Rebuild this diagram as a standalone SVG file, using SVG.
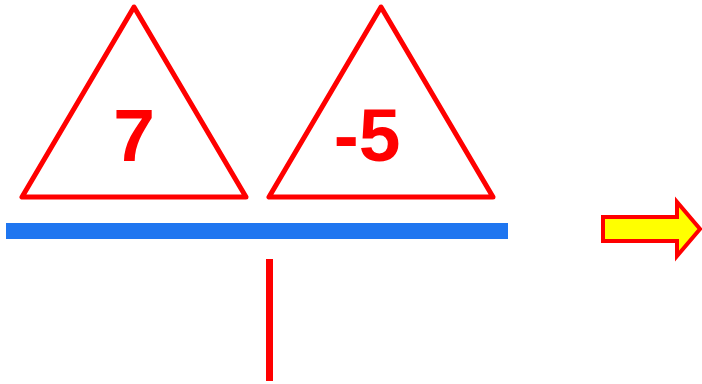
<svg xmlns="http://www.w3.org/2000/svg" width="702" height="384" viewBox="0 0 702 384">
<style>
.tri{fill:#fff;stroke:#ff0000;stroke-width:5;stroke-linejoin:round}
.num{font-family:"Liberation Sans",Arial,sans-serif;font-weight:bold;font-size:75px;fill:#ff0000;text-anchor:middle}
</style>
<rect width="702" height="384" fill="#fff"/>
<g id="tri1">
<polygon class="tri" points="134,7 22,197 246,197"/>
<text class="num" x="134" y="161">7</text>
</g>
<g id="tri2">
<polygon class="tri" points="381,7 269,197 493,197"/>
<text class="num" x="367" y="161">-5</text>
</g>
<g id="beam">
<rect x="6" y="223" width="502" height="16" fill="#1f76f0"/>
</g>
<g id="connectors">
<rect x="266" y="259" width="7" height="122" fill="#ff0000"/>
</g>
<g id="arrow">
<polygon points="603,217 677,217 677,202 700,229 677,256 677,241 603,241" fill="#ffff00" stroke="#ff0000" stroke-width="4"/>
</g>
</svg>
